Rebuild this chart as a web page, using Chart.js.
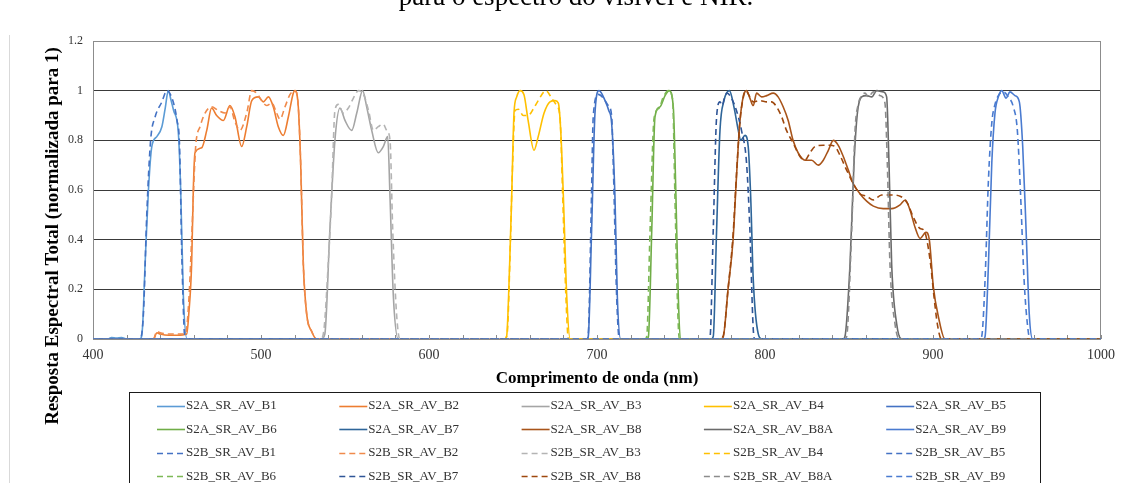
<!DOCTYPE html>
<html>
<head>
<meta charset="utf-8">
<script src="https://cdn.jsdelivr.net/npm/chart.js@4.4.1/dist/chart.umd.min.js"></script>
<style>
  html, body { margin: 0; padding: 0; background: #fff; }
  #wrap { position: relative; width: 1127px; height: 483px; overflow: hidden; }
  canvas { display: block; }
</style>
</head>
<body>
<div id="wrap"><canvas id="c" width="1127" height="483"></canvas></div>
<script>
// Sentinel-2A / 2B relative spectral responses (normalised to 1), visible + NIR bands
const xTicks = [400, 500, 600, 700, 800, 900, 1000];
const yTicks = [0, 0.2, 0.4, 0.6, 0.8, 1, 1.2];

// ---- S2A ----
const wlA_B1 = [400, 409, 411, 414, 417, 420, 428, 429.5, 431, 433, 435, 438, 441, 443, 444.8, 446.5, 448, 450.8, 452.2, 453.8, 456, 1000];
const rsA_B1 = [0, 0, 0.006, 0.004, 0.006, 0, 0, 0.05, 0.3, 0.6, 0.775, 0.815, 0.855, 0.93, 1.0, 0.96, 0.92, 0.83, 0.6, 0.17, 0, 0];
const wlA_B2 = [400, 436, 438, 440, 445, 450, 455.8, 457, 458.7, 459.7, 460.7, 464.7, 467.7, 470.6, 473.6, 477.6, 481.5, 484.5, 488.5, 491.5, 494.5, 498.4, 501.4, 504.4, 507.3, 510.3, 513.3, 516.3, 519.2, 520.2, 522.2, 523.6, 525.2, 527.2, 530.2, 533, 1000];
const rsA_B2 = [0, 0, 0.025, 0.02, 0.015, 0.015, 0.02, 0.1, 0.3, 0.6, 0.75, 0.77, 0.84, 0.93, 0.9, 0.88, 0.94, 0.895, 0.775, 0.855, 0.96, 0.975, 0.955, 0.975, 0.935, 0.855, 0.82, 0.895, 0.99, 1.0, 0.935, 0.71, 0.3, 0.1, 0.03, 0, 0];
const wlA_B3 = [400, 536, 538, 541, 544, 547, 550, 554, 557, 560.5, 562.9, 565.9, 569.8, 572.8, 575.4, 576.8, 578.8, 581.7, 1000];
const rsA_B3 = [0, 0, 0.02, 0.44, 0.8, 0.93, 0.88, 0.84, 0.91, 1.0, 0.935, 0.84, 0.75, 0.775, 0.815, 0.57, 0.17, 0, 0];
const wlA_B4 = [400, 645, 646.2, 648, 649.2, 650.6, 652.2, 654.2, 656.5, 659, 662.5, 665, 668.5, 672, 675, 677, 678.4, 680, 682, 684, 1000];
const rsA_B4 = [0, 0, 0.01, 0.3, 0.57, 0.91, 0.975, 1.0, 0.985, 0.88, 0.76, 0.815, 0.91, 0.955, 0.96, 0.95, 0.84, 0.57, 0.17, 0, 0];
const wlA_B5 = [400, 694, 694.8, 696.8, 698.8, 701.2, 704.8, 707, 708.7, 710.7, 712.1, 714.1, 1000];
const rsA_B5 = [0, 0, 0.01, 0.44, 0.91, 1.0, 0.96, 0.92, 0.87, 0.57, 0.17, 0, 0];
const wlA_B6 = [400, 729.5, 730.6, 732.6, 734.5, 737.5, 740.5, 743, 745.4, 747, 748.4, 749.6, 1000];
const rsA_B6 = [0, 0, 0.01, 0.44, 0.895, 0.935, 0.98, 1.0, 0.935, 0.57, 0.17, 0, 0];
const wlA_B7 = [400, 768, 769.2, 771.2, 773.2, 775.6, 778.8, 781.5, 784.1, 785.5, 788.1, 790, 791.5, 793, 796, 798, 1000];
const rsA_B7 = [0, 0, 0.01, 0.44, 0.84, 0.96, 1.0, 0.935, 0.84, 0.8, 0.82, 0.775, 0.57, 0.24, 0.02, 0, 0];
const wlA_B8 = [400, 773, 775, 778, 781, 783, 785, 787, 789, 791, 793, 795, 798, 801, 804.9, 807.8, 810.8, 813.8, 816.7, 819.7, 823.8, 827.8, 831.7, 834.7, 837.7, 840.7, 843.6, 846.6, 849.6, 852.6, 856.5, 860.5, 864.5, 870.4, 875.4, 880.4, 883.5, 886.3, 889.3, 892.3, 895.8, 897.8, 900.2, 903.2, 907.1, 1000];
const rsA_B8 = [0, 0, 0.005, 0.2, 0.4, 0.65, 0.87, 0.975, 1.0, 0.97, 0.94, 0.99, 0.975, 0.98, 0.99, 0.975, 0.935, 0.88, 0.80, 0.75, 0.72, 0.72, 0.70, 0.72, 0.76, 0.80, 0.78, 0.735, 0.68, 0.625, 0.585, 0.555, 0.535, 0.525, 0.525, 0.54, 0.56, 0.52, 0.45, 0.405, 0.43, 0.40, 0.21, 0.09, 0, 0];
const wlA_B8A = [400, 846.5, 847.6, 850.6, 853, 855, 857.5, 860.5, 863.5, 866.5, 870.4, 872.4, 873.8, 875.4, 878.4, 881.3, 1000];
const rsA_B8A = [0, 0, 0.01, 0.3, 0.71, 0.91, 0.975, 0.98, 0.975, 1.0, 0.995, 0.975, 0.71, 0.3, 0.06, 0, 0];
const wlA_B9 = [400, 930, 931, 933, 935, 936.9, 938.9, 940.9, 943.5, 945.8, 948.8, 951.4, 953.4, 955.4, 957.3, 959.3, 1000];
const rsA_B9 = [0, 0, 0.01, 0.3, 0.71, 0.91, 0.975, 1.0, 0.97, 0.995, 0.98, 0.955, 0.775, 0.44, 0.1, 0, 0];

// ---- S2B ----
const wlB_B1 = [400, 428, 430, 432, 434.3, 437, 441, 444, 447.5, 450, 451.5, 453, 454.8, 1000];
const rsB_B1 = [0, 0, 0.1, 0.5, 0.8, 0.895, 0.955, 1.0, 0.96, 0.88, 0.78, 0.3, 0, 0];
const wlB_B2 = [400, 436, 438, 440, 445, 450, 455, 457, 459, 460.5, 461.3, 463.7, 466.7, 470.6, 474.6, 478.6, 481.5, 484.5, 487.5, 491.5, 494.5, 497.4, 500.4, 503.4, 506.4, 509.3, 511.3, 514.3, 517.3, 520.2, 522.2, 523.6, 525.2, 527.2, 530.2, 533, 1000];
const rsB_B2 = [0, 0, 0.03, 0.025, 0.02, 0.02, 0.02, 0.15, 0.45, 0.7, 0.79, 0.855, 0.91, 0.935, 0.92, 0.91, 0.935, 0.875, 0.84, 0.91, 1.0, 0.99, 0.96, 0.94, 0.95, 0.91, 0.885, 0.935, 0.985, 1.0, 0.935, 0.71, 0.3, 0.1, 0.03, 0, 0];
const wlB_B3 = [400, 535.5, 537.5, 540, 542, 544, 546, 549, 552, 555, 558, 561, 564, 566.9, 569.8, 572.8, 574.8, 576.8, 578.4, 580.7, 582.7, 1000];
const rsB_B3 = [0, 0, 0.04, 0.3, 0.57, 0.92, 0.945, 0.91, 0.93, 0.97, 1.0, 0.985, 0.92, 0.84, 0.855, 0.865, 0.84, 0.8, 0.44, 0.1, 0, 0];
const wlB_B4 = [400, 645, 646.5, 648.5, 649.8, 651.2, 653.2, 656.1, 659, 662, 665, 669.6, 673, 676, 678, 679.6, 681.5, 683, 1000];
const rsB_B4 = [0, 0, 0.02, 0.4, 0.71, 0.92, 0.925, 0.9, 0.9, 0.925, 0.96, 1.0, 0.97, 0.94, 0.89, 0.57, 0.17, 0, 0];
const wlB_B5 = [400, 694, 694.8, 696.5, 697.8, 700.8, 703.8, 706.7, 708.7, 709.7, 711.7, 713.3, 1000];
const rsB_B5 = [0, 0, 0.02, 0.5, 0.9, 0.985, 0.97, 0.94, 0.9, 0.7, 0.17, 0, 0];
const wlB_B6 = [400, 728.5, 729.6, 731.6, 734, 737, 739.5, 742.5, 745, 746.4, 747.8, 749, 1000];
const rsB_B6 = [0, 0, 0.01, 0.44, 0.89, 0.93, 0.975, 1.0, 0.965, 0.57, 0.17, 0, 0];
const wlB_B7 = [400, 766, 767.3, 769.2, 771.2, 773.2, 774.5, 776, 777.5, 780, 783, 786, 789, 791, 793, 794, 1000];
const rsB_B7 = [0, 0, 0.01, 0.44, 0.895, 0.955, 0.94, 0.975, 0.99, 0.97, 0.92, 0.84, 0.71, 0.44, 0.04, 0, 0];
const wlB_B8 = [400, 772, 775, 778, 781, 783, 785, 787, 788.5, 791, 793, 797, 801, 803.9, 806.9, 809.9, 812.8, 816.7, 820.8, 823.8, 826.8, 829.8, 834.7, 838.7, 841.7, 844.6, 848.6, 852.6, 856.5, 860.5, 864.5, 869.4, 874.4, 880.4, 884.9, 888.3, 892.3, 894.3, 896, 898.6, 900.6, 902.6, 905, 1000];
const rsB_B8 = [0, 0, 0.01, 0.2, 0.42, 0.66, 0.87, 0.97, 1.0, 0.975, 0.955, 0.96, 0.955, 0.955, 0.935, 0.895, 0.84, 0.79, 0.735, 0.72, 0.75, 0.775, 0.78, 0.78, 0.775, 0.74, 0.68, 0.625, 0.585, 0.575, 0.56, 0.58, 0.58, 0.575, 0.545, 0.49, 0.445, 0.44, 0.41, 0.30, 0.17, 0.06, 0, 0];
const wlB_B8A = [400, 847.5, 848.6, 851.6, 853.6, 855.5, 857.5, 859.5, 861.5, 864.5, 868.5, 871.4, 872.8, 874.4, 877.4, 880, 1000];
const rsB_B8A = [0, 0, 0.01, 0.44, 0.84, 0.945, 0.98, 0.99, 0.975, 0.995, 0.98, 0.95, 0.71, 0.3, 0.06, 0, 0];
const wlB_B9 = [400, 928, 929, 931, 933, 935, 936.9, 938.9, 941.9, 944.8, 947.8, 950.2, 952.2, 954.2, 956.7, 958, 1000];
const rsB_B9 = [0, 0, 0.01, 0.24, 0.64, 0.87, 0.945, 0.98, 0.995, 0.975, 0.935, 0.84, 0.57, 0.24, 0.03, 0, 0];

const seriesLabels = [
  'S2A_SR_AV_B1', 'S2A_SR_AV_B2', 'S2A_SR_AV_B3', 'S2A_SR_AV_B4', 'S2A_SR_AV_B5',
  'S2A_SR_AV_B6', 'S2A_SR_AV_B7', 'S2A_SR_AV_B8', 'S2A_SR_AV_B8A', 'S2A_SR_AV_B9',
  'S2B_SR_AV_B1', 'S2B_SR_AV_B2', 'S2B_SR_AV_B3', 'S2B_SR_AV_B4', 'S2B_SR_AV_B5',
  'S2B_SR_AV_B6', 'S2B_SR_AV_B7', 'S2B_SR_AV_B8', 'S2B_SR_AV_B8A', 'S2B_SR_AV_B9'
];
const seriesWl = [wlA_B1, wlA_B2, wlA_B3, wlA_B4, wlA_B5, wlA_B6, wlA_B7, wlA_B8, wlA_B8A, wlA_B9,
                  wlB_B1, wlB_B2, wlB_B3, wlB_B4, wlB_B5, wlB_B6, wlB_B7, wlB_B8, wlB_B8A, wlB_B9];
const seriesRs = [rsA_B1, rsA_B2, rsA_B3, rsA_B4, rsA_B5, rsA_B6, rsA_B7, rsA_B8, rsA_B8A, rsA_B9,
                  rsB_B1, rsB_B2, rsB_B3, rsB_B4, rsB_B5, rsB_B6, rsB_B7, rsB_B8, rsB_B8A, rsB_B9];
const seriesColors = [
  '#5B9BD5', '#ED7D31', '#A5A5A5', '#FFC000', '#4472C4',
  '#70AD47', '#2E6599', '#A8541A', '#6B6B6B', '#4A7BD0',
  '#4472C4', '#F08A4B', '#B4B4B4', '#FFC000', '#4472C4',
  '#7DB956', '#2F5597', '#9E480E', '#8C8C8C', '#4A7BD0'
];

const SERIF = "'Liberation Serif', 'Times New Roman', serif";
const N = seriesLabels.length;

const datasets = seriesLabels.map((label, i) => ({
  label,
  data: seriesWl[i].map((x, k) => ({ x, y: seriesRs[i][k] })),
  borderColor: seriesColors[i],
  backgroundColor: seriesColors[i],
  borderWidth: 1.6,
  borderDash: i >= 10 ? [6, 4] : [],
  showLine: true,
  pointRadius: 0,
  cubicInterpolationMode: 'monotone',
  order: N - i
}));

// plot frame, inner minor ticks, titles, boxed legend
const decorations = {
  id: 'decorations',
  beforeDatasetsDraw(chart) {
    const { ctx, chartArea: a, scales: { x } } = chart;
    ctx.save();
    ctx.strokeStyle = '#8c8c8c';
    ctx.lineWidth = 1;
    ctx.beginPath();
    ctx.moveTo(Math.round(a.left) + 0.5, a.top);
    ctx.lineTo(Math.round(a.left) + 0.5, a.bottom);
    ctx.moveTo(Math.round(a.right) - 0.5, a.top);
    ctx.lineTo(Math.round(a.right) - 0.5, a.bottom);
    for (let v = 400; v <= 1000; v += 20) {
      const px = Math.round(x.getPixelForValue(v)) + 0.5;
      ctx.moveTo(px, a.bottom);
      ctx.lineTo(px, a.bottom - 4);
    }
    ctx.stroke();
    ctx.restore();
  },
  afterDraw(chart) {
    const { ctx, chartArea: a } = chart;
    ctx.save();
    // page frame line on the left
    ctx.strokeStyle = '#d9d9d9';
    ctx.lineWidth = 1;
    ctx.beginPath();
    ctx.moveTo(9.5, 35);
    ctx.lineTo(9.5, 483);
    ctx.stroke();

    // caption line above the chart
    ctx.fillStyle = '#000';
    ctx.font = '27px ' + SERIF;
    ctx.textAlign = 'center';
    ctx.textBaseline = 'alphabetic';
    ctx.fillText('para o espectro do visível e NIR.', 576, 5);

    // axis titles
    ctx.font = 'bold 17px ' + SERIF;
    ctx.textBaseline = 'middle';
    ctx.fillText('Comprimento de onda (nm)', (a.left + a.right) / 2, 379);
    ctx.save();
    ctx.font = 'bold 19px ' + SERIF;
    ctx.translate(53, 236);
    ctx.rotate(-Math.PI / 2);
    ctx.fillText('Resposta Espectral Total (normalizada para 1)', 0, 0);
    ctx.restore();

    // legend box
    ctx.strokeStyle = '#1a1a1a';
    ctx.strokeRect(129.5, 392.5, 911, 120);
    ctx.font = '13px ' + SERIF;
    ctx.textAlign = 'left';
    ctx.textBaseline = 'middle';
    chart.data.datasets.forEach((ds, i) => {
      const col = i % 5, row = Math.floor(i / 5);
      const tx = 186 + col * 182.3;
      const ty = 405.5 + row * 23.6;
      ctx.strokeStyle = ds.borderColor;
      ctx.lineWidth = 1.6;
      ctx.setLineDash(ds.borderDash || []);
      ctx.beginPath();
      ctx.moveTo(tx - 29, Math.round(ty) + 0.5);
      ctx.lineTo(tx - 1, Math.round(ty) + 0.5);
      ctx.stroke();
      ctx.setLineDash([]);
      ctx.fillStyle = '#333333';
      ctx.fillText(ds.label, tx, ty);
    });
    ctx.restore();
  }
};

new Chart(document.getElementById('c'), {
  type: 'scatter',
  data: { datasets },
  options: {
    responsive: false,
    animation: false,
    devicePixelRatio: 1,
    layout: { padding: { left: 0, top: 41, right: 26, bottom: 114 } },
    plugins: { legend: { display: false }, tooltip: { enabled: false } },
    scales: {
      x: {
        type: 'linear',
        min: 400, max: 1000,
        afterFit: s => { s.height = 30; },
        grid: { display: false, drawTicks: false },
        border: { display: false },
        ticks: {
          stepSize: 20,
          autoSkip: false,
          maxRotation: 0,
          padding: 8,
          color: '#333333',
          font: { family: SERIF, size: 14 },
          callback: v => (xTicks.includes(v) ? String(v) : '')
        }
      },
      y: {
        min: 0, max: 1.2,
        afterFit: s => { s.width = 93; },
        grid: {
          drawTicks: false,
          lineWidth: 1,
          color: c => {
            const v = c.tick ? c.tick.value : 0;
            return (Math.abs(v - 1.2) < 1e-6 || Math.abs(v) < 1e-6) ? '#8c8c8c' : '#3a3a3a';
          }
        },
        border: { display: false },
        ticks: {
          stepSize: 0.2,
          padding: 10,
          color: '#333333',
          font: { family: SERIF, size: 12 },
          callback: v => {
            const r = Math.round(v * 10) / 10;
            return yTicks.includes(r) ? String(r) : '';
          }
        }
      }
    }
  },
  plugins: [decorations]
});
</script>
</body>
</html>
